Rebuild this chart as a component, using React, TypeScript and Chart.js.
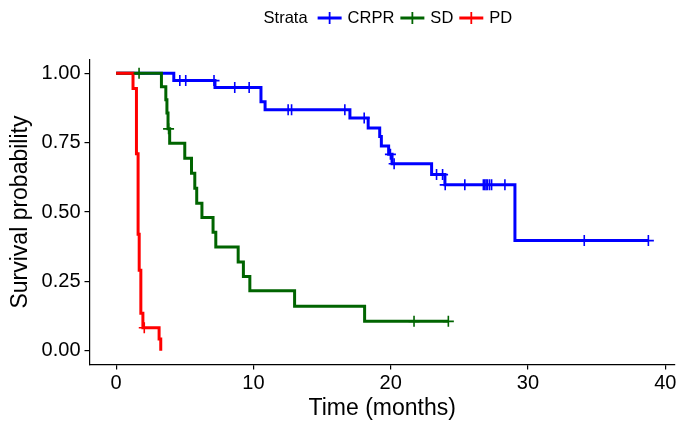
import React, { useEffect, useRef } from 'react';
import { Chart, registerables } from 'chart.js';

Chart.register(...registerables);

const FONT = '"Liberation Sans", Arial, Helvetica, sans-serif';

// Axis ticks
const xTicks = [0, 10, 20, 30, 40];
const yTicks = [0, 0.25, 0.5, 0.75, 1];

// Strata
const strata = ['CRPR', 'SD', 'PD'];
const strataColors = ['#0000FF', '#006400', '#FF0000'];

// CRPR: event times and survival after each event
const crprTimes = [0, 4.2, 7.2, 10.55, 10.85, 17.03, 18.36, 19.2, 19.32, 19.85, 20.1, 22.98, 23.95, 29.05, 38.77];
const crprSurv = [1, 0.974, 0.949, 0.898, 0.869, 0.839, 0.803, 0.772, 0.738, 0.708, 0.674, 0.635, 0.598, 0.397, 0.397];
const crprCensorTimes = [4.64, 5.07, 7.13, 8.64, 9.69, 12.53, 12.78, 16.66, 18.07, 19.98, 20.25, 23.34, 23.78, 23.97, 25.4, 26.75, 26.85, 26.95, 27.05, 27.2, 27.35, 28.32, 34.1, 38.77];

// SD
const sdTimes = [0, 3.3, 3.62, 3.7, 3.78, 3.9, 5.0, 5.49, 5.73, 5.87, 6.25, 7.06, 7.26, 8.89, 9.27, 9.74, 13.0, 18.1, 24.2];
const sdSurv = [1, 0.952, 0.905, 0.857, 0.8, 0.748, 0.694, 0.64, 0.586, 0.532, 0.48, 0.427, 0.374, 0.32, 0.268, 0.216, 0.16, 0.106, 0.106];
const sdCensorTimes = [1.67, 3.82, 21.7, 24.2];

// PD
const pdTimes = [0, 1.23, 1.48, 1.6, 1.68, 1.8, 1.95, 3.13, 3.25];
const pdSurv = [1, 0.945, 0.71, 0.42, 0.29, 0.135, 0.083, 0.042, 0];
const pdCensorTimes = [2.05];

function survAt(times: number[], surv: number[], t: number): number {
  let s = surv[0];
  for (let i = 0; i < times.length; i++) {
    if (times[i] <= t) s = surv[i];
  }
  return s;
}

function curve(times: number[], surv: number[]) {
  return times.map((t, i) => ({ x: t, y: surv[i] }));
}

function censors(ct: number[], times: number[], surv: number[]) {
  return ct.map((t) => ({ x: t, y: survAt(times, surv, t) }));
}

const legendPlugin = {
  id: 'strataLegend',
  afterDraw(chart: any) {
    const ctx = chart.ctx as CanvasRenderingContext2D;
    ctx.save();
    ctx.font = `16.5px ${FONT}`;
    ctx.fillStyle = '#000';
    ctx.textBaseline = 'middle';
    ctx.textAlign = 'left';
    let x = 263.6;
    const y = 18;
    ctx.fillText('Strata', x, y);
    x += ctx.measureText('Strata').width + 10;
    strata.forEach((name, i) => {
      ctx.strokeStyle = strataColors[i];
      ctx.lineWidth = 3;
      ctx.beginPath();
      ctx.moveTo(x, y);
      ctx.lineTo(x + 24, y);
      ctx.stroke();
      ctx.lineWidth = 1.8;
      ctx.beginPath();
      ctx.moveTo(x + 12, y - 6);
      ctx.lineTo(x + 12, y + 6);
      ctx.stroke();
      x += 24 + 6;
      ctx.fillText(name, x, y);
      x += ctx.measureText(name).width + 6;
    });
    ctx.restore();
  },
};

export default function App() {
  const ref = useRef<HTMLCanvasElement | null>(null);

  useEffect(() => {
    document.body.style.margin = '0';
    const canvas = ref.current;
    if (!canvas) return;

    const lineDs = (label: string, times: number[], surv: number[], color: string, order: number) => ({
      type: 'line' as const,
      label,
      data: curve(times, surv),
      stepped: true,
      borderColor: color,
      backgroundColor: color,
      borderWidth: 3,
      pointRadius: 0,
      pointHoverRadius: 0,
      fill: false,
      order,
      borderCapStyle: 'butt' as const,
      borderJoinStyle: 'miter' as const,
    });

    const censorDs = (label: string, ct: number[], times: number[], surv: number[], color: string, order: number) => ({
      type: 'line' as const,
      label,
      data: censors(ct, times, surv),
      showLine: false,
      pointStyle: 'cross' as const,
      pointRadius: 5.5,
      pointHoverRadius: 5.5,
      pointBorderWidth: 1.6,
      borderColor: color,
      backgroundColor: color,
      pointBorderColor: color,
      order,
    });

    const chart = new Chart(canvas, {
      type: 'line',
      data: {
        datasets: [
          censorDs('PD censor', pdCensorTimes, pdTimes, pdSurv, strataColors[2], 0),
          censorDs('SD censor', sdCensorTimes, sdTimes, sdSurv, strataColors[1], 1),
          censorDs('CRPR censor', crprCensorTimes, crprTimes, crprSurv, strataColors[0], 2),
          lineDs('PD', pdTimes, pdSurv, strataColors[2], 3),
          lineDs('SD', sdTimes, sdSurv, strataColors[1], 4),
          lineDs('CRPR', crprTimes, crprSurv, strataColors[0], 5),
        ] as any,
      },
      options: {
        animation: false,
        responsive: false,
        devicePixelRatio: 1,
        layout: { padding: { top: 59.5, right: 14, left: 0, bottom: 0 } },
        plugins: {
          legend: { display: false },
          tooltip: { enabled: false },
          title: { display: false },
        },
        scales: {
          x: {
            type: 'linear',
            min: -1.94,
            max: 40.71,
            afterBuildTicks: (s: any) => {
              s.ticks = xTicks.map((v) => ({ value: v }));
            },
            afterFit: (s: any) => {
              s.height = 58.4;
            },
            grid: { display: true, drawOnChartArea: false, drawTicks: true, tickLength: 5, color: '#000', lineWidth: 1.2 },
            border: { display: true, color: '#000', width: 1.2 },
            ticks: {
              font: { family: FONT, size: 20 },
              color: '#000',
              padding: 2,
              maxRotation: 0,
              autoSkip: false,
              callback: (v: any) => String(v),
            },
            title: {
              display: true,
              text: 'Time (months)',
              font: { family: FONT, size: 23 },
              color: '#000',
              padding: { top: 0, bottom: 1 },
            },
          },
          y: {
            type: 'linear',
            min: -0.05,
            max: 1.05,
            afterBuildTicks: (s: any) => {
              s.ticks = yTicks.map((v) => ({ value: v }));
            },
            afterFit: (s: any) => {
              s.width = 89.5;
            },
            grid: { display: true, drawOnChartArea: false, drawTicks: true, tickLength: 5, color: '#000', lineWidth: 1.2 },
            border: { display: true, color: '#000', width: 1.2 },
            ticks: {
              font: { family: FONT, size: 20 },
              color: '#000',
              padding: 4,
              autoSkip: false,
              callback: (v: any) => Number(v).toFixed(2),
            },
            title: {
              display: true,
              text: 'Survival probability',
              font: { family: FONT, size: 23 },
              color: '#000',
              padding: { top: 7, bottom: 0 },
            },
          },
        },
      },
      plugins: [legendPlugin],
    });

    return () => chart.destroy();
  }, []);

  return (
    <div style={{ width: 689, height: 423 }}>
      <canvas ref={ref} width={689} height={423} style={{ display: 'block' }} />
    </div>
  );
}
